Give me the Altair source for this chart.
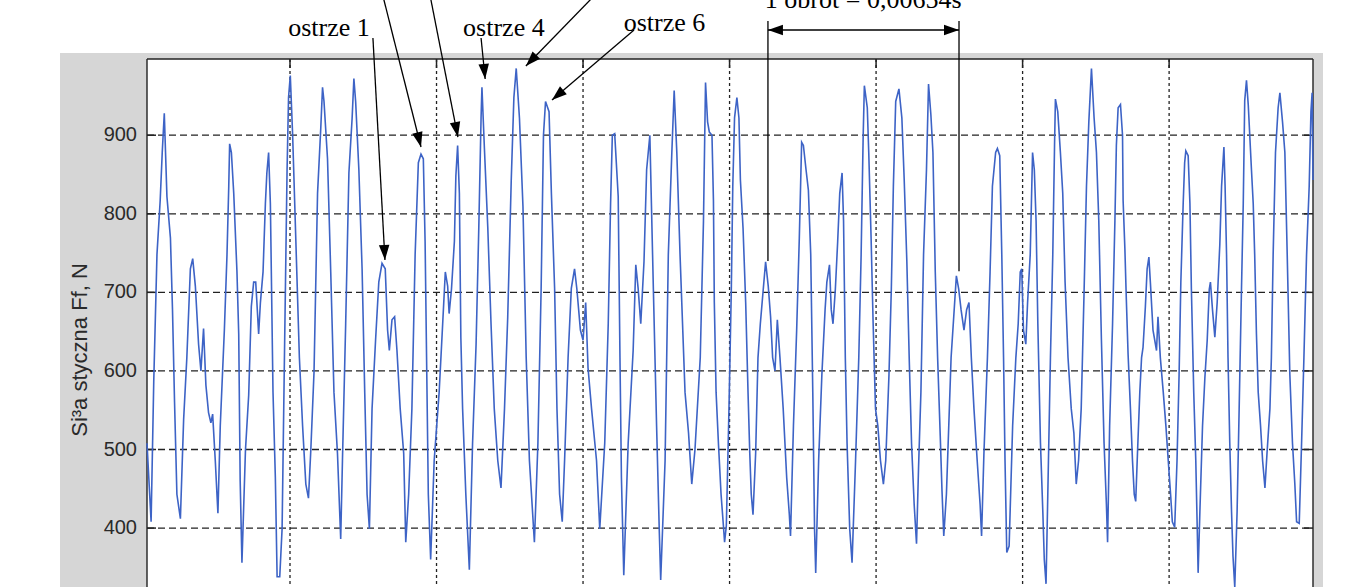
import altair as alt
import pandas as pd

# ---- signal: time [ms] , tangential force [N] ----
seg_a = [(0.12, 508), (0.26, 408), (0.35, 586), (0.46, 748), (0.57, 817), (0.64, 878), (0.71, 928),
         (0.80, 822), (0.92, 769), (0.99, 678), (1.06, 560), (1.14, 443), (1.26, 412), (1.37, 538),
         (1.48, 617), (1.60, 730), (1.68, 743), (1.77, 708), (1.88, 634), (1.96, 600), (2.05, 654),
         (2.13, 582), (2.22, 547), (2.30, 534), (2.36, 545), (2.45, 486), (2.54, 419), (2.62, 530),
         (2.76, 652), (2.85, 748), (2.91, 835), (2.94, 889), (3.00, 878), (3.08, 826), (3.19, 726),
         (3.25, 647), (3.30, 460), (3.36, 356), (3.48, 499), (3.59, 569), (3.68, 682), (3.76, 713),
         (3.83, 713), (3.87, 687), (3.93, 647), (3.99, 687), (4.08, 726), (4.16, 813), (4.21, 852),
         (4.27, 878), (4.33, 813), (4.42, 573), (4.50, 464), (4.56, 338), (4.65, 338), (4.73, 399),
         (4.81, 617), (4.90, 856), (4.95, 948), (5.01, 976)]
seg_b = [(5.09, 900), (5.20, 765), (5.32, 617), (5.43, 530), (5.54, 456), (5.63, 438), (5.71, 499),
         (5.82, 599), (5.94, 826), (6.05, 909), (6.11, 961), (6.16, 943), (6.28, 870), (6.39, 726),
         (6.50, 573), (6.62, 495), (6.73, 386), (6.79, 486), (6.90, 660), (7.01, 852), (7.12, 922),
         (7.18, 972), (7.24, 943), (7.35, 856), (7.46, 730), (7.55, 573), (7.63, 443), (7.71, 399),
         (7.80, 552), (7.92, 639), (8.03, 713), (8.14, 737), (8.25, 730), (8.33, 652), (8.39, 626),
         (8.48, 665), (8.57, 669), (8.65, 626), (8.76, 552), (8.88, 495), (8.95, 382), (9.05, 443),
         (9.16, 552), (9.27, 748), (9.38, 865), (9.47, 876), (9.55, 870), (9.61, 765), (9.72, 443),
         (9.80, 360)]
seg_c = [(9.92, 486), (10.09, 573), (10.21, 660), (10.30, 726), (10.38, 708), (10.43, 673),
         (10.51, 704), (10.61, 765), (10.66, 848), (10.72, 887), (10.78, 826), (10.83, 643),
         (10.89, 552), (11.00, 443), (11.12, 347), (11.23, 508), (11.35, 634), (11.44, 778),
         (11.52, 922), (11.55, 961), (11.63, 887), (11.75, 782), (11.86, 660), (11.97, 552),
         (12.09, 486), (12.20, 451), (12.32, 552), (12.43, 669), (12.55, 843), (12.64, 948),
         (12.72, 985), (12.83, 922), (12.95, 809), (13.06, 617), (13.17, 486), (13.34, 382),
         (13.46, 508), (13.57, 705), (13.65, 900), (13.72, 943), (13.84, 930), (13.92, 826),
         (14.03, 705), (14.11, 552), (14.20, 443), (14.29, 408), (14.37, 486), (14.49, 617),
         (14.60, 705), (14.71, 730), (14.79, 704), (14.91, 652), (15.00, 639), (15.09, 687),
         (15.17, 604), (15.29, 552), (15.46, 486), (15.57, 399), (15.74, 508), (15.86, 660),
         (15.94, 813), (16.00, 900), (16.08, 902), (16.20, 822), (16.26, 617), (16.31, 464),
         (16.39, 340), (16.54, 508), (16.71, 626), (16.80, 735), (16.88, 705), (16.97, 660),
         (17.08, 739), (17.17, 856), (17.28, 900), (17.40, 704), (17.51, 530), (17.60, 399),
         (17.65, 334), (17.80, 486), (17.91, 748), (18.03, 878), (18.11, 957), (18.20, 878),
         (18.31, 748), (18.48, 573), (18.60, 521), (18.71, 456), (18.82, 500), (19.00, 617),
         (19.11, 791), (19.18, 967)]
seg_d = [(19.25, 917), (19.31, 904), (19.40, 900), (19.45, 817), (19.48, 687), (19.54, 573),
         (19.62, 508), (19.71, 443), (19.79, 403), (19.83, 382), (19.89, 403), (19.98, 552),
         (20.06, 704), (20.11, 835), (20.17, 922), (20.25, 948), (20.32, 922), (20.37, 843),
         (20.46, 782), (20.55, 687), (20.63, 573), (20.69, 495), (20.74, 443), (20.80, 417),
         (20.89, 495), (20.97, 617), (21.05, 660), (21.15, 704), (21.23, 739), (21.32, 708),
         (21.40, 669), (21.47, 617), (21.55, 600), (21.63, 665), (21.72, 617), (21.83, 552),
         (21.95, 464), (22.04, 417), (22.08, 390), (22.18, 530), (22.29, 652), (22.38, 769),
         (22.46, 891), (22.52, 887), (22.61, 856), (22.69, 830), (22.77, 748), (22.84, 573),
         (22.90, 399), (22.94, 343), (23.04, 486), (23.15, 595), (23.26, 678), (23.32, 713),
         (23.41, 735), (23.47, 678), (23.53, 660), (23.61, 704), (23.69, 765), (23.76, 826),
         (23.84, 852), (23.89, 791), (23.95, 617), (24.01, 508), (24.10, 399), (24.18, 356),
         (24.30, 486), (24.41, 617), (24.49, 748), (24.56, 900), (24.60, 963), (24.70, 935),
         (24.75, 878), (24.83, 769), (24.90, 660), (24.98, 552), (25.06, 530), (25.15, 486),
         (25.25, 456), (25.33, 486), (25.44, 595), (25.52, 704), (25.59, 835), (25.67, 943),
         (25.78, 959), (25.88, 922), (25.96, 843), (26.05, 739), (26.13, 617), (26.21, 508),
         (26.30, 430), (26.38, 380)]
seg_e = [(26.45, 478), (26.53, 573), (26.62, 748), (26.72, 856), (26.79, 965), (26.87, 926),
         (26.94, 878), (27.02, 726), (27.10, 617), (27.19, 517), (27.25, 447), (27.31, 390),
         (27.40, 443), (27.48, 530), (27.56, 617), (27.65, 669), (27.74, 721), (27.82, 704),
         (27.90, 678), (28.00, 652), (28.09, 678), (28.17, 687), (28.25, 617), (28.34, 552),
         (28.45, 486), (28.55, 430), (28.60, 390), (28.68, 495), (28.80, 617), (28.89, 726),
         (28.97, 835), (29.08, 878), (29.14, 883), (29.22, 874), (29.29, 748), (29.35, 617),
         (29.40, 486), (29.46, 369), (29.54, 377), (29.66, 530), (29.77, 617), (29.85, 660),
         (29.92, 726), (29.97, 730), (30.03, 652), (30.11, 634), (30.17, 687), (30.26, 748),
         (30.34, 878), (30.40, 856), (30.46, 791), (30.52, 660), (30.61, 508), (30.69, 421),
         (30.74, 360), (30.80, 329), (30.86, 443), (30.95, 617), (31.03, 748), (31.09, 887),
         (31.12, 946), (31.20, 930), (31.29, 878), (31.37, 826), (31.45, 713), (31.55, 617),
         (31.66, 552), (31.75, 521), (31.83, 456), (31.91, 486), (32.00, 552), (32.10, 704),
         (32.18, 835), (32.26, 917), (32.35, 985), (32.44, 922), (32.52, 878), (32.60, 791),
         (32.69, 639), (32.78, 508), (32.86, 430), (32.90, 382)]
seg_f = [(32.97, 530), (33.07, 660), (33.15, 791), (33.20, 887), (33.26, 935), (33.34, 939),
         (33.41, 900), (33.43, 817), (33.49, 756), (33.54, 691), (33.60, 621), (33.68, 552),
         (33.75, 486), (33.81, 443), (33.86, 434), (33.92, 495), (34.00, 573), (34.06, 617),
         (34.11, 630), (34.19, 682), (34.25, 730), (34.31, 745), (34.36, 713), (34.45, 652),
         (34.57, 626), (34.62, 669), (34.70, 617), (34.80, 573), (34.89, 530), (34.97, 486),
         (35.05, 443), (35.11, 408), (35.19, 401), (35.27, 486), (35.34, 595), (35.40, 713),
         (35.48, 813), (35.53, 865), (35.57, 880), (35.65, 874), (35.71, 813), (35.76, 704),
         (35.84, 573), (35.91, 486), (35.96, 399), (35.99, 343), (36.05, 421), (36.14, 530),
         (36.22, 591), (36.30, 639), (36.37, 704), (36.41, 713), (36.48, 678), (36.56, 643),
         (36.64, 687), (36.73, 761), (36.79, 835), (36.87, 885), (36.91, 835), (36.96, 748),
         (37.01, 617), (37.07, 508), (37.13, 421), (37.18, 364), (37.24, 325), (37.32, 421),
         (37.39, 552), (37.47, 705), (37.53, 813), (37.58, 944), (37.64, 970), (37.70, 939),
         (37.81, 856), (37.87, 813), (37.92, 748), (37.98, 647), (38.04, 573), (38.12, 530),
         (38.19, 486), (38.27, 451), (38.34, 495), (38.44, 552), (38.49, 617), (38.55, 748),
         (38.63, 878), (38.72, 935), (38.78, 954), (38.87, 917), (38.95, 878), (39.03, 748),
         (39.12, 595), (39.21, 508), (39.29, 456), (39.35, 408), (39.44, 406), (39.52, 508),
         (39.60, 617), (39.69, 748), (39.78, 835), (39.84, 930), (39.88, 954), (39.91, 843)]

y_ticks = [400, 500, 600, 700, 800, 900]
x_grid = [5, 10, 15, 20, 25, 30, 35]
y_title = "Si³a styczna Ff, N"

# ---- annotations (data units: ms, N) ----
arrow_t1 = [7.83, 8.18, 9.79, 11.52, 15.34, 16.74]
arrow_v1 = [1023.7, 1075.9, 1075.9, 1023.7, 1075.9, 1033.9]
arrow_t2 = [8.24, 9.47, 10.73, 11.66, 13.05, 13.94]
arrow_v2 = [741.2, 885.0, 897.7, 971.5, 988.1, 944.8]
arrow_ang = [176.9, 165.9, 168.9, 174.4, 224.1, 229.5]

obrot_t = [21.31, 27.83]
obrot_top = [1045.4, 1045.4]
obrot_bottom = [740.0, 727.0]
obrot_arrow_v = 1033.9

labels = ["ostrze 1", "ostrze 4", "ostrze 6", "1 obrót = 0,00654s"]
label_t = [6.33, 12.30, 17.78, 24.56]
label_v = [1026.3, 1026.3, 1032.6, 1061.9]

# ---------------------------------------------------------------------------
pairs = seg_a + seg_b + seg_c + seg_d + seg_e + seg_f
sig = pd.DataFrame(pairs, columns=["t", "f"])

W, H = 1166, 528
xs = alt.Scale(domain=[0.12, 39.91], nice=False, zero=False)
ys = alt.Scale(domain=[325, 997], nice=False, zero=False)
one = pd.DataFrame({"a": [0]})
INK = "#222222"
LABEL = "#2a2a2a"

gray = alt.Chart(one).mark_rect(color="#d6d6d6").encode(
    x=alt.value(-87), x2=alt.value(1176), y=alt.value(-6), y2=alt.value(H + 20))
white = alt.Chart(one).mark_rect(color="white").encode(
    x=alt.value(0), x2=alt.value(W), y=alt.value(0), y2=alt.value(H))

ydf = pd.DataFrame({"v": y_ticks})
xdf = pd.DataFrame({"t": x_grid})

hgrid = alt.Chart(ydf).mark_rule(color=INK, strokeDash=[7, 4], strokeWidth=1.3).encode(
    y=alt.Y("v:Q", scale=ys, axis=None), x=alt.value(0), x2=alt.value(W))
vgrid = alt.Chart(xdf).mark_rule(color=INK, strokeDash=[3, 3], strokeWidth=1.3).encode(
    x=alt.X("t:Q", scale=xs, axis=None), y=alt.value(0), y2=alt.value(H))

lticks = alt.Chart(ydf).mark_rule(color=INK, strokeWidth=1.5).encode(
    y=alt.Y("v:Q", scale=ys, axis=None), x=alt.value(0), x2=alt.value(9))
rticks = alt.Chart(ydf).mark_rule(color=INK, strokeWidth=1.5).encode(
    y=alt.Y("v:Q", scale=ys, axis=None), x=alt.value(W - 9), x2=alt.value(W))
tticks = alt.Chart(xdf).mark_rule(color=INK, strokeWidth=1.5).encode(
    x=alt.X("t:Q", scale=xs, axis=None), y=alt.value(0), y2=alt.value(9))

# y tick labels and axis title as text marks
ylabels = alt.Chart(ydf).mark_text(font="Liberation Sans", fontSize=20, color=LABEL,
                                   align="right", baseline="middle").encode(
    y=alt.Y("v:Q", scale=ys, axis=None), x=alt.value(-10), text="v:Q")
ytitle = alt.Chart(one).mark_text(font="Liberation Sans", fontSize=22, color=LABEL,
                                  align="center", baseline="middle", angle=270).encode(
    x=alt.value(-67), y=alt.value(291), text=alt.value(y_title))

b_left = alt.Chart(one).mark_rule(color=INK, strokeWidth=1.4).encode(
    x=alt.value(0), y=alt.value(0), y2=alt.value(H))
b_right = alt.Chart(one).mark_rule(color=INK, strokeWidth=1.4).encode(
    x=alt.value(W), y=alt.value(0), y2=alt.value(H))
b_top = alt.Chart(one).mark_rule(color=INK, strokeWidth=1.6).encode(
    y=alt.value(0), x=alt.value(0), x2=alt.value(W))

line = alt.Chart(sig).mark_line(color="#3d63c6", strokeWidth=1.6).encode(
    x=alt.X("t:Q", scale=xs, axis=None),
    y=alt.Y("f:Q", scale=ys, axis=None),
    order="t:Q")

adf = pd.DataFrame({"t1": arrow_t1, "v1": arrow_v1, "t2": arrow_t2, "v2": arrow_v2, "ang": arrow_ang})
arrow_lines = alt.Chart(adf).mark_rule(color="black", strokeWidth=1.3).encode(
    x=alt.X("t1:Q", scale=xs, axis=None), y=alt.Y("v1:Q", scale=ys, axis=None),
    x2="t2:Q", y2="v2:Q")

head_shape = "M0,0L-0.7,2L0.7,2Z"
heads = alt.Chart(adf).mark_point(shape=head_shape, filled=True, color="black", size=225, opacity=1).encode(
    x=alt.X("t2:Q", scale=xs, axis=None), y=alt.Y("v2:Q", scale=ys, axis=None),
    angle=alt.Angle("ang:Q", scale=None))

odf = pd.DataFrame({"t": obrot_t, "top": obrot_top, "bot": obrot_bottom})
obrot_lines = alt.Chart(odf).mark_rule(color="black", strokeWidth=1.3).encode(
    x=alt.X("t:Q", scale=xs, axis=None), y=alt.Y("top:Q", scale=ys, axis=None), y2="bot:Q")
hdf = pd.DataFrame({"t1": [obrot_t[0]], "t2": [obrot_t[1]], "v": [obrot_arrow_v]})
obrot_h = alt.Chart(hdf).mark_rule(color="black", strokeWidth=1.5).encode(
    x=alt.X("t1:Q", scale=xs, axis=None), x2="t2:Q", y=alt.Y("v:Q", scale=ys, axis=None))
ohd = pd.DataFrame({"t": obrot_t, "v": [obrot_arrow_v, obrot_arrow_v], "ang": [270, 90]})
obrot_heads = alt.Chart(ohd).mark_point(shape=head_shape, filled=True, color="black", size=225, opacity=1).encode(
    x=alt.X("t:Q", scale=xs, axis=None), y=alt.Y("v:Q", scale=ys, axis=None),
    angle=alt.Angle("ang:Q", scale=None))

tdf = pd.DataFrame({"t": label_t, "v": label_v, "label": labels})
texts = alt.Chart(tdf).mark_text(font="Liberation Serif", fontSize=26, color="black",
                                 align="center", baseline="alphabetic").encode(
    x=alt.X("t:Q", scale=xs, axis=None), y=alt.Y("v:Q", scale=ys, axis=None), text="label:N")

chart = alt.layer(
    gray, white, hgrid, vgrid, lticks, rticks, tticks, b_left, b_right, b_top,
    ylabels, ytitle,
    line, arrow_lines, heads, obrot_lines, obrot_h, obrot_heads, texts
).properties(
    width=W, height=H,
    autosize=alt.AutoSizeParams(type="none"),
    padding={"left": 147, "top": 59, "right": 46, "bottom": 0},
    background="white",
).configure_view(stroke=None)

chart.save("out.html", embed_options={"renderer": "svg", "actions": False})
